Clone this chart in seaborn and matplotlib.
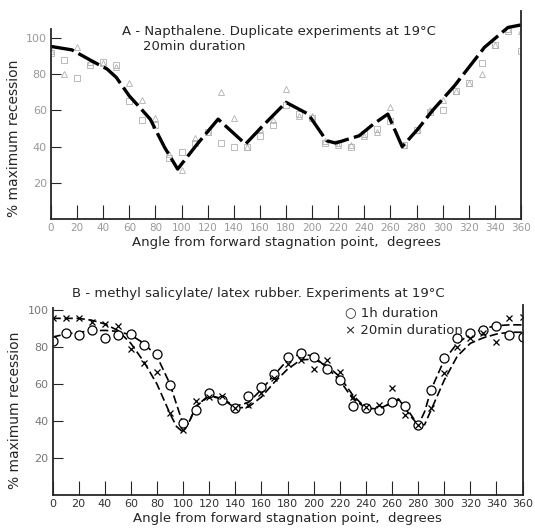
import numpy as np
import pandas as pd
import matplotlib
matplotlib.use("Agg")
import matplotlib.pyplot as plt
import seaborn as sns

# ---------------- Panel A data (Napthalene) ----------------
a_angle = [0, 10, 20, 30, 40, 50, 60, 70, 80, 90, 100, 110, 120, 130, 140, 150, 160, 170, 180,
           190, 200, 210, 220, 230, 240, 250, 260, 270, 280, 290, 300, 310, 320, 330, 340, 350, 360]
a_tri = [93, 80, 95, 87, 86, 84, 75, 66, 56, 36, 27, 45, 48, 70, 56, 40, 50, 55, 72,
         57, 57, 43, 41, 41, 46, 48, 62, 41, 49, 60, 66, 71, 75, 80, 96, 105, 104]
a_sq = [92, 88, 78, 85, 87, 85, 65, 55, 52, 34, 37, 42, 48, 42, 40, 40, 46, 52, 63,
        58, 56, 42, 42, 40, 47, 50, 54, 41, 49, 59, 60, 71, 75, 86, 96, 104, 93]
a_line_x = [0, 16, 31, 43, 50, 60, 68, 76, 87, 97, 112, 128, 149, 161, 180, 197, 211, 218,
            236, 247, 258, 269, 281, 292, 300, 309, 332, 350, 360]
a_line_y = [95.4, 93.5, 87.5, 82.9, 78.3, 68, 61.7, 55.2, 39.6, 27.6, 41.4, 55.2, 41.4, 50.6,
            64.5, 58, 43.3, 42, 46, 52.5, 58, 40, 49.7, 59.8, 66.3, 73.6, 94.9, 105.9, 107.3]

# ---------------- Panel B data (methyl salicylate / latex rubber) ----------------
b_angle = [0, 10, 20, 30, 40, 50, 60, 70, 80, 90, 100, 110, 120, 130, 140, 150, 160, 170, 180,
           190, 200, 210, 220, 230, 240, 250, 260, 270, 280, 290, 300, 310, 320, 330, 340, 350, 360]
b_1h = [83.4, 87.4, 86.5, 89.2, 85, 86.5, 86.9, 81, 76, 59.5, 39, 46, 55.3, 51.4, 46.8, 53.7, 58.2,
        65.4, 74.4, 76.6, 74.4, 68, 62.2, 48.1, 46.8, 46, 50.4, 48.1, 37.8, 57, 73.9, 84.7, 87.4,
        89.2, 91.4, 86.5, 85.6]
b_20 = [95.5, 95.5, 95.5, 93.7, 92.5, 91.4, 78.8, 71.2, 66.6, 44.2, 35, 51, 53, 53.5, 47, 48.6, 55,
        63, 70.6, 73, 68, 73, 66.6, 53, 47.7, 48.6, 57.7, 43.2, 38, 46.9, 65.8, 80.2, 85, 87.4,
        82.9, 95.5, 96.4]
b_curve_x = [0, 10, 20, 30, 40, 50, 60, 70, 80, 90, 95, 100, 105, 110, 120, 130, 140, 150, 160,
             170, 180, 190, 200, 210, 220, 230, 240, 250, 260, 265, 270, 275, 280, 285, 290, 300,
             310, 320, 330, 340, 350, 360]
b_curve_1h = [85.4, 87, 88, 88.8, 89, 88.5, 86.5, 82, 75, 60, 49, 38.5, 40, 48, 54, 52, 48, 50, 57,
              65, 73, 76.5, 75, 69, 62, 52, 47, 46.5, 50, 51.5, 48, 43, 37.5, 45, 57, 73, 82, 87,
              90, 91.5, 92, 92]
b_curve_20 = [95.5, 95.5, 95.5, 94.5, 92.5, 89, 82, 72, 60, 44, 37, 34, 40, 48, 53.5, 52, 47, 47.5,
              53, 61, 68, 73, 73.5, 70, 64, 54, 47, 46, 50, 52, 47, 42, 38, 38, 46, 62, 75, 82,
              85, 87, 88, 88]

x_ticks = list(range(0, 361, 20))
y_ticks = [20, 40, 60, 80, 100]

sns.set_style("ticks")
plt.rcParams['font.family'] = ['DejaVu Sans']

fig = plt.figure(figsize=(5.35, 5.28), dpi=100)
axA = fig.add_axes([51 / 535, 1 - 219 / 528, 470 / 535, 208 / 528])
axB = fig.add_axes([52.5 / 535, 1 - 495 / 528, 470 / 535, 190.5 / 528])

# ----- Panel A -----
sns.lineplot(x=a_angle, y=a_tri, ax=axA, marker='^', linestyle='none', color='#b0b0b0',
             markerfacecolor='none', markeredgecolor='#b0b0b0', markersize=5, markeredgewidth=0.6)
sns.lineplot(x=a_angle, y=a_sq, ax=axA, marker='s', linestyle='none', color='#b0b0b0',
             markerfacecolor='none', markeredgecolor='#b0b0b0', markersize=4, markeredgewidth=0.6)
sns.lineplot(x=a_line_x, y=a_line_y, ax=axA, sort=False, estimator=None, color='black',
             linewidth=2.4)
axA.lines[-1].set_dashes([7, 1.6])
axA.set_xlim(0, 360)
axA.set_ylim(0, 115)
axA.spines['top'].set_visible(False)
axA.spines['left'].set_bounds(0, 105)
for s in ['left', 'bottom', 'right']:
    axA.spines[s].set_linewidth(1.3)
axA.set_xticks(x_ticks)
axA.set_xticklabels([str(t) for t in x_ticks], fontsize=7.5, color='#999999')
axA.set_yticks(y_ticks)
axA.set_yticklabels([str(t) for t in y_ticks], fontsize=8, color='#999999')
axA.tick_params(axis='both', direction='in', length=7, width=0.8, pad=3)
axA.tick_params(axis='x', length=10)
axA.set_xlabel('Angle from forward stagnation point,  degrees', fontsize=9.5, labelpad=2)
axA.set_ylabel('% maximum recession', fontsize=10)
axA.yaxis.set_label_coords(-0.063, 0.39)

# ----- Panel B -----
sns.lineplot(x=b_curve_x, y=b_curve_1h, ax=axB, sort=False, estimator=None, color='black',
             linewidth=1.2)
axB.lines[-1].set_dashes([5, 2.2])
sns.lineplot(x=b_curve_x, y=b_curve_20, ax=axB, sort=False, estimator=None, color='black',
             linewidth=1.2)
axB.lines[-1].set_dashes([5, 2.2])
sns.lineplot(x=b_angle, y=b_1h, ax=axB, marker='o', linestyle='none', color='black',
             markerfacecolor='white', markeredgecolor='black', markersize=6.5, markeredgewidth=0.9)
sns.lineplot(x=b_angle, y=b_20, ax=axB, marker='x', linestyle='none', color='black',
             markeredgecolor='black', markersize=4.5, markeredgewidth=0.9)
axB.set_xlim(0, 360)
axB.set_ylim(0, 103)
axB.spines['top'].set_visible(False)
axB.spines['left'].set_bounds(0, 101)
for s in ['left', 'bottom', 'right']:
    axB.spines[s].set_linewidth(1.3)
axB.set_xticks(x_ticks)
axB.set_xticklabels([str(t) for t in x_ticks], fontsize=8, color='#333333')
axB.set_yticks(y_ticks)
axB.set_yticklabels([str(t) for t in y_ticks], fontsize=8, color='#777777')
axB.tick_params(axis='both', direction='in', length=7, width=0.8, pad=3)
axB.tick_params(axis='x', length=10)
axB.set_xlabel('Angle from forward stagnation point,  degrees', fontsize=9.5, labelpad=2)
axB.set_ylabel('% maximum recession', fontsize=10)
axB.yaxis.set_label_coords(-0.065, 0.446)

# ----- Titles / legend text -----
fig.text(122 / 535, 1 - 31 / 528, 'A - Napthalene. Duplicate experiments at 19°C',
         fontsize=9.5, va='center', ha='left')
fig.text(143 / 535, 1 - 47 / 528, '20min duration', fontsize=9.5, va='center', ha='left')
fig.text(72 / 535, 1 - 293 / 528, 'B - methyl salicylate/ latex rubber. Experiments at 19°C',
         fontsize=9.5, va='center', ha='left')
fig.text(345 / 535, 1 - 313 / 528, '○ 1h duration', fontsize=9.5, va='center', ha='left')
fig.text(345 / 535, 1 - 330 / 528, '× 20min duration', fontsize=9.5, va='center', ha='left')

fig.savefig('out.png', dpi=100)
